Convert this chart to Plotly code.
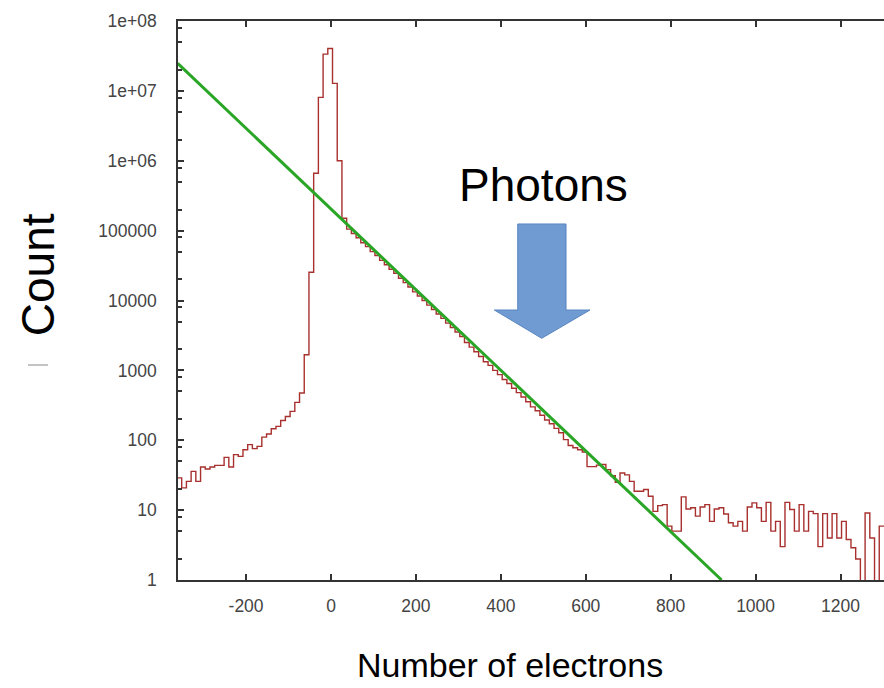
import numpy as np
import plotly.graph_objects as go

# ---------------- data ----------------
bin_start = -362.7      # left edge of first histogram bin (electrons)
bin_width = 11.1        # histogram bin width (electrons)

counts = [
    28.9, 20.8, 25.8, 35.9, 25.8, 41.5, 38.8, 41.5, 43.7, 43.7,
    56.9, 41.5, 62.2, 58.8, 73.3, 86.5, 75.8, 81.8, 111, 123,
    146, 158, 192, 219, 259, 348, 474, 1672, 25400, 661000,
    8070000, 33600000, 40500000, 12800000, 1000000, 150000,
    105000, 91000, 79000, 67000, 59000, 50000, 44000, 37500, 32500, 28000,
    24500, 20800, 18000, 15600, 13300, 11600, 10000, 8600, 7450, 6400,
    5550, 4750, 4100, 3550, 3050, 2500, 2150, 1850, 1580, 1330,
    1180, 1000, 870, 740, 650, 555, 480, 415, 355, 300,
    265, 228, 195, 172, 148, 128, 102, 84, 78, 73,
    68, 42, 42, 44, 45, 38, 31, 25, 34, 32,
    25.8, 18.6, 18.6, 19.7, 15.8, 9.6, 11.6, 12.0, 5.9, 5.0,
    5.0, 15.5, 10.4, 10.8, 8.2, 11.1, 12.0, 6.9, 10.4, 10.8,
    8.8, 6.6, 5.9, 6.9, 5.0, 11.1, 12.7, 10.8, 6.9, 12.9,
    5.0, 6.9, 3.0, 12.9, 10.2, 5.0, 12.0, 5.0, 9.6, 8.9,
    3.0, 8.9, 4.0, 8.9, 4.0, 6.9, 3.8, 2.9, 2.0, 0.5,
    9.1, 4.0, 0.5, 5.9,
]

fit_x = [-361, 920]
fit_y = [2.47e7, 1.0]

x_tickvals = [-200, 0, 200, 400, 600, 800, 1000, 1200]
x_ticktext = ["-200", "0", "200", "400", "600", "800", "1000", "1200"]
y_tickvals = [1, 10, 100, 1000, 10000, 100000, 1e6, 1e7, 1e8]
y_ticktext = ["1", "10", "100", "1000", "10000", "100000", "1e+06", "1e+07", "1e+08"]
y_minor = [m * 10 ** d for d in range(0, 8) for m in (2, 5, 8)]

x_title = "Number of electrons"
y_title = "Count"
note_text = "Photons"

# ---------------- build ----------------
edges = bin_start + bin_width * np.arange(len(counts) + 1)
hist_x = list(edges)
hist_y = list(counts) + [counts[-1]]

FONT = "Liberation Sans, Arial, sans-serif"
AX = "#333333"
TICKFONT = dict(size=17.5, color="#444444", family=FONT)

fig = go.Figure()
fig.add_trace(go.Scatter(
    x=hist_x, y=hist_y, mode="lines", line_shape="hv",
    line=dict(color="#a8302e", width=1.4), hoverinfo="skip", showlegend=False))
fig.add_trace(go.Scatter(
    x=fit_x, y=fit_y, mode="lines",
    line=dict(color="#2aa626", width=3), hoverinfo="skip", showlegend=False))

fig.update_layout(
    width=884, height=688,
    margin=dict(l=178, r=0, t=21, b=108),
    paper_bgcolor="white", plot_bgcolor="white",
    font=dict(family=FONT, color="#444444", size=16),
    showlegend=False,
    xaxis=dict(
        range=[-360.3, 1302.4], tickvals=x_tickvals, ticktext=x_ticktext,
        ticks="inside", ticklen=6, tickwidth=1.5, tickcolor=AX,
        showline=True, linecolor=AX, linewidth=1.5, mirror="ticks",
        showgrid=False, zeroline=False,
        tickfont=TICKFONT, ticklabelstandoff=9),
    yaxis=dict(
        type="log", range=[0, 8], tickvals=y_tickvals, ticktext=y_ticktext,
        ticks="inside", ticklen=6, tickwidth=1.5, tickcolor=AX,
        showline=True, linecolor=AX, linewidth=1.5, mirror=False,
        showgrid=False, zeroline=False,
        minor=dict(tickvals=y_minor, ticks="inside", ticklen=4, tickcolor=AX, showgrid=False),
        tickfont=TICKFONT, ticklabelstandoff=16),
)

# axis titles and label
fig.add_annotation(text=x_title, xref="paper", yref="paper", x=0.470, y=-0.152,
                   showarrow=False, font=dict(size=34, color="black", family=FONT),
                   xanchor="center", yanchor="middle")
fig.add_annotation(text=y_title, xref="paper", yref="paper", x=-0.198, y=0.5456,
                   textangle=-90, showarrow=False,
                   font=dict(size=46, color="black", family=FONT),
                   xanchor="center", yanchor="middle")
fig.add_annotation(text=note_text, xref="paper", yref="paper", x=0.517, y=0.707,
                   showarrow=False, font=dict(size=46, color="black", family=FONT),
                   xanchor="center", yanchor="middle")

# block arrow (decoration) in paper coordinates
arrow_path = ("M 0.4812 0.6369 L 0.5496 0.6369 L 0.5496 0.4830 L 0.5836 0.4830 "
              "L 0.5152 0.4324 L 0.4480 0.4830 L 0.4812 0.4830 Z")
fig.add_shape(type="path", path=arrow_path, xref="paper", yref="paper",
              fillcolor="#6f9bd2", line=dict(color="#5a86c0", width=1))
# small grey dash left of the axis title
fig.add_shape(type="line", xref="paper", yref="paper", x0=-0.2125, x1=-0.184,
              y0=0.3846, y1=0.3846, line=dict(color="#b0b0b0", width=1.5))

fig.write_html("out.html")
